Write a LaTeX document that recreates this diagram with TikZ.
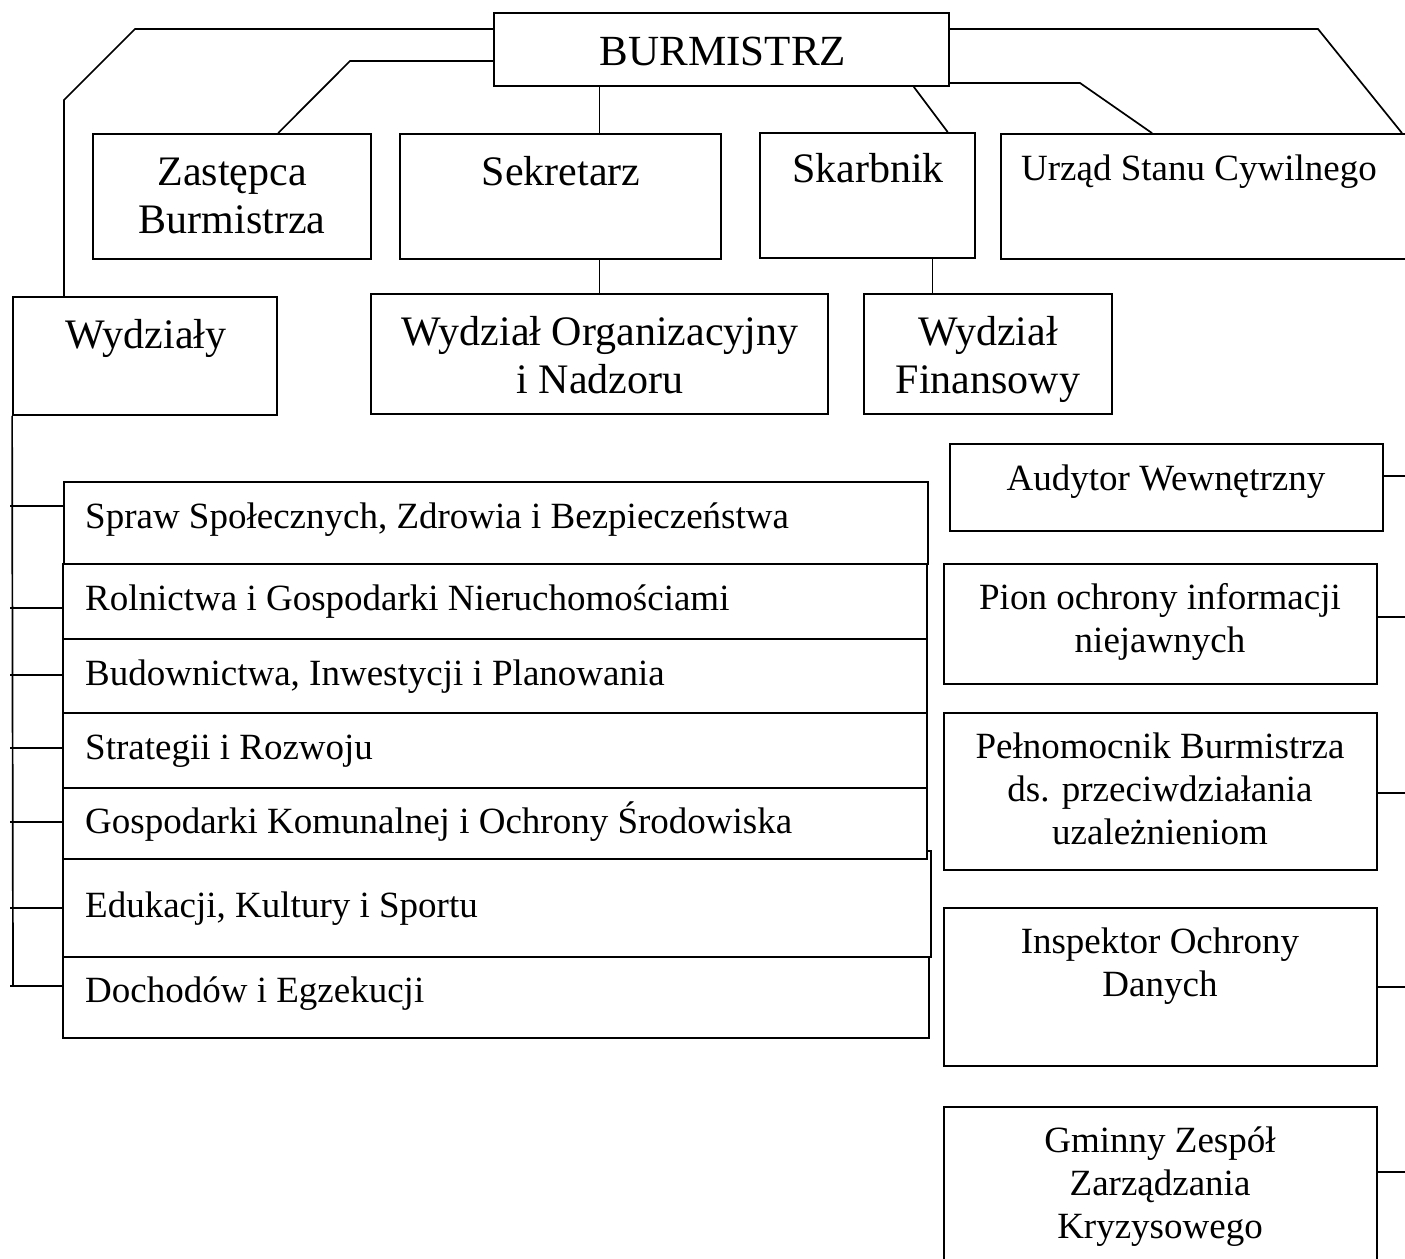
\documentclass[tikz,border=0pt]{standalone}
\usepackage{fontspec}
\setmainfont{Liberation Serif}
\usetikzlibrary{fit,calc}
\begin{document}
\begin{tikzpicture}[x=1pt,y=-1pt,
  box/.style={draw, line width=1.8pt, inner sep=0pt, fill=white},
  bigt/.style={font=\fontsize{42}{48}\selectfont, inner sep=0pt, align=center, anchor=base},
  smallt/.style={font=\fontsize{37}{43}\selectfont, inner sep=0pt, align=center, anchor=base},
  listt/.style={font=\fontsize{37}{43}\selectfont, inner sep=0pt, anchor=base west},
  con/.style={line width=1.7pt}]
\clip (0,0) rectangle (1405,1258);
\fill[white] (0,0) rectangle (1405,1258);
% boxes
\node[box, fit={(494,13) (949,86)}] (burm) {};
\node[box, fit={(93,134) (371,259)}] (zast) {};
\node[box, fit={(400,134) (721,259)}] (sek) {};
\node[box, fit={(760,133) (975,258)}] (skarb) {};
\node[box, fit={(1001,134) (1460,259)}] (usc) {};
\node[box, fit={(13,297) (277,415)}] (wyd) {};
\node[box, fit={(371,294) (828,414)}] (org) {};
\node[box, fit={(864,294) (1112,414)}] (fin) {};
\node[box, fit={(64,482) (928,564)}] (w1) {};
\node[box, fit={(63,564) (927,639)}] (w2) {};
\node[box, fit={(63,639) (927,713)}] (w3) {};
\node[box, fit={(63,713) (927,788)}] (w4) {};
\node[box, fit={(63,851) (931,957)}] (w6) {};
\node[box, fit={(63,788) (927,859)}] (w5) {};
\node[box, fit={(63,957) (929,1038)}] (w7) {};
\node[box, fit={(950,444) (1383,531)}] (aud) {};
\node[box, fit={(944,564) (1377,684)}] (pion) {};
\node[box, fit={(944,713) (1377,870)}] (peln) {};
\node[box, fit={(944,908) (1377,1066)}] (insp) {};
\node[box, fit={(944,1107) (1377,1300)}] (gzzk) {};
% texts (multi-line nodes: base = last line baseline)
\node[font=\fontsize{43}{49}\selectfont, inner sep=0pt, anchor=base] (tburm) at (723,65) {BURMISTRZ};
\node[bigt] (tzast) at (232,233) {Zastępca\\Burmistrza};
\node[bigt] (tsek) at (561,185) {Sekretarz};
\node[bigt] (tskarb) at (868,182) {Skarbnik};
\node[smallt, anchor=base west] (tusc) at (1021,180) {Urząd Stanu Cywilnego};
\node[bigt] (twyd) at (146,348) {Wydziały};
\node[bigt] (torg) at (600,393) {Wydział Organizacyjny\\i Nadzoru};
\node[bigt] (tfin) at (988,393) {Wydział\\Finansowy};
\node[listt] (t1) at (85,528) {Spraw Społecznych, Zdrowia i Bezpieczeństwa};
\node[listt] (t2) at (85,610) {Rolnictwa i Gospodarki Nieruchomościami};
\node[listt] (t3) at (85,685) {Budownictwa, Inwestycji i Planowania};
\node[listt] (t4) at (85,759) {Strategii i Rozwoju};
\node[listt] (t5) at (85,833) {Gospodarki Komunalnej i Ochrony Środowiska};
\node[listt] (t6) at (85,917) {Edukacji, Kultury i Sportu};
\node[listt] (t7) at (85,1002) {Dochodów i Egzekucji};
\node[smallt] (taud) at (1166,490) {Audytor Wewnętrzny};
\node[smallt] (tpion) at (1160,652) {Pion ochrony informacji\\niejawnych};
\node[smallt] (tpeln) at (1160,844) {Pełnomocnik Burmistrza\\ds. przeciwdziałania\\uzależnieniom};
\node[smallt] (tinsp) at (1160,996) {Inspektor Ochrony\\Danych};
\node[smallt] (tgzzk) at (1160,1238) {Gminny Zespół\\Zarządzania\\Kryzysowego};
% connectors from BURMISTRZ
\coordinate (L1) at (135,29);
\coordinate (L2) at (64,100);
\draw[con] (burm.west |- L1) -- (L1) -- (L2) -- (L2 |- wyd.north);
\coordinate (L3) at (350,61);
\draw[con] (burm.west |- L3) -- (L3) -- ($(zast.north west)!0.665!(zast.north east)$);
\draw[con] (org.north |- burm.south) -- (org.north |- sek.north);
\draw[con] (org.north |- sek.south) -- (org.north);
\draw[con] ($(burm.south west)!0.921!(burm.south east)$) -- ($(skarb.north west)!0.87!(skarb.north east)$);
\coordinate (F1) at ($(fin.north west)!0.278!(fin.north east)$);
\draw[con] (F1 |- skarb.south) -- (F1);
\coordinate (R1) at (1080,83);
\coordinate (R2) at (1152,134);
\draw[con] (burm.east |- R1) -- (R1) -- (R2 |- usc.north);
\coordinate (R3) at (1318,29);
\coordinate (R4) at (1402,134);
\draw[con] (burm.east |- R3) -- (R3) -- (R4 |- usc.north);
% left spine
\coordinate (S0) at (13,986);
\draw[con] (wyd.south west) -- (S0);
\foreach \n/\y in {w1/506, w2/608, w3/675, w4/748, w5/822, w6/908, w7/986}{
  \draw[con] (10,\y) -- (\n.west |- 0,\y);
}
% right stubs
\foreach \n/\y in {aud/476, pion/617, peln/793, insp/987, gzzk/1172}{
  \draw[con] (\n.east |- 0,\y) -- (1410,\y);
}
\end{tikzpicture}
\end{document}
